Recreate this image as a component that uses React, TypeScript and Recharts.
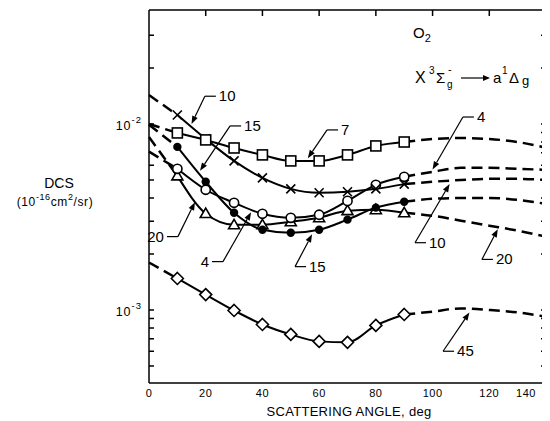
import React from "react";
import { LineChart, Line, XAxis, YAxis, ReferenceLine } from "recharts";

// scattering angles (deg) of the measured points and of the dashed extrapolation
const ANGLES = [10, 20, 30, 40, 50, 60, 70, 80, 90];
const TAIL_ANGLES = [100, 110, 120, 130, 140];

// DCS values, 10^-16 cm^2/sr
const dcs7 = [8.95e-3, 8.21e-3, 7.43e-3, 6.82e-3, 6.33e-3, 6.33e-3, 6.82e-3, 7.62e-3, 8.0e-3];
const dcs7Zero = 1.0e-2;
const dcs7Tail = [8.3e-3, 8.4e-3, 8.3e-3, 8.0e-3, 7.45e-3];

const dcs10 = [1.118e-2, 8.31e-3, 6.33e-3, 5.13e-3, 4.48e-3, 4.27e-3, 4.32e-3, 4.48e-3, 4.75e-3];
const dcs10Zero = 1.43e-2;
const dcs10Tail = [4.89e-3, 5.0e-3, 5.07e-3, 5.07e-3, 5.0e-3];

const dcs4 = [5.74e-3, 4.43e-3, 3.77e-3, 3.29e-3, 3.13e-3, 3.25e-3, 3.86e-3, 4.71e-3, 5.2e-3];
const dcs4Zero = 7.1e-3;
const dcs4Tail = [5.53e-3, 5.81e-3, 5.81e-3, 5.74e-3, 5.67e-3];

const dcs15 = [7.53e-3, 4.89e-3, 3.33e-3, 2.7e-3, 2.6e-3, 2.7e-3, 3.06e-3, 3.55e-3, 3.82e-3];
const dcs15Zero = 9.9e-3;
const dcs15Tail = [3.96e-3, 4.0e-3, 4.0e-3, 3.91e-3, 3.72e-3];

const dcs20 = [5.26e-3, 3.3e-3, 2.87e-3, 2.87e-3, 2.98e-3, 3.13e-3, 3.42e-3, 3.46e-3, 3.33e-3];
const dcs20Zero = 8.5e-3;
const dcs20Tail = [3.21e-3, 3.02e-3, 2.84e-3, 2.67e-3, 2.48e-3];

const dcs45 = [1.477e-3, 1.21e-3, 9.94e-4, 8.36e-4, 7.39e-4, 6.78e-4, 6.7e-4, 8.26e-4, 9.46e-4];
const dcs45Zero = 1.8e-3;
const dcs45Tail = [9.8e-4, 1.02e-3, 1.0e-3, 9.7e-4, 9.2e-4];

const X_TICKS = [0, 20, 40, 60, 80, 100, 120, 140];
const TOP_TICKS = [20, 40, 60, 80, 100, 120];
const Y_TOP = 4.1e-2;
const Y_MAJOR = [1e-3, 1e-2];
const Y_LEFT_TICKS = [5e-4, 6e-4, 7e-4, 8e-4, 9e-4, 1e-3, 2e-3, 3e-3, 4e-3, 5e-3, 6e-3, 1e-2, 2e-2, 3e-2];
const Y_RIGHT_TICKS = [5e-4, 6e-4, 7e-4, 8e-4, 9e-4, 1e-3, 2e-3, 3e-3, 4e-3, 5e-3, 6e-3, 7e-3, 8e-3, 9e-3, 1e-2, 2e-2, 3e-2];

const SERIES = [
  { key: "e45", meas: dcs45, zero: dcs45Zero, tail: dcs45Tail, marker: "diamond" },
  { key: "e20", meas: dcs20, zero: dcs20Zero, tail: dcs20Tail, marker: "triangle" },
  { key: "e15", meas: dcs15, zero: dcs15Zero, tail: dcs15Tail, marker: "dot" },
  { key: "e4", meas: dcs4, zero: dcs4Zero, tail: dcs4Tail, marker: "circle" },
  { key: "e10", meas: dcs10, zero: dcs10Zero, tail: dcs10Tail, marker: "cross" },
  { key: "e7", meas: dcs7, zero: dcs7Zero, tail: dcs7Tail, marker: "square" },
];

// energy labels with leader arrows: [angle, dcs] of elbow and arrow tip
const NOTES = [
  { text: "10", from: [19.7, 1.41e-2], to: [15, 1.0e-2], side: "right" },
  { text: "15", from: [28.6, 9.76e-3], to: [18, 5.6e-3], side: "right" },
  { text: "7", from: [62.8, 9.29e-3], to: [56, 6.55e-3], side: "right" },
  { text: "4", from: [110.7, 1.09e-2], to: [100, 5.7e-3], side: "right" },
  { text: "10", from: [93.8, 2.3e-3], to: [106, 4.75e-3], side: "right" },
  { text: "20", from: [117.4, 1.87e-3], to: [123, 2.72e-3], side: "right" },
  { text: "15", from: [51.5, 1.71e-3], to: [57.5, 2.55e-3], side: "right" },
  { text: "45", from: [103.7, 6.0e-4], to: [113, 9.7e-4], side: "right" },
  { text: "20", from: [10.2, 2.48e-3], to: [16.2, 3.8e-3], side: "left" },
  { text: "4", from: [26.1, 1.82e-3], to: [36, 3.35e-3], side: "left" },
];

const rows = [0, ...ANGLES, ...TAIL_ANGLES].map((angle) => {
  const row: any = { angle };
  SERIES.forEach((s) => {
    const i = ANGLES.indexOf(angle);
    const j = TAIL_ANGLES.indexOf(angle);
    row[s.key] = i >= 0 ? s.meas[i] : null;
    let ext = null;
    if (angle === 0) ext = s.zero;
    else if (angle === 10) ext = s.meas[0];
    else if (angle === 90) ext = s.meas[8];
    else if (j >= 0) ext = s.tail[j];
    row[s.key + "Ext"] = ext;
  });
  return row;
});

const W = 542;
const H = 413;
const MARGIN = { top: 1, right: 3, bottom: 8, left: 81 };
const Y_AXIS_W = 60;
const PLOT_LEFT = MARGIN.left + Y_AXIS_W;
const PLOT_W = W - MARGIN.right - 1 - PLOT_LEFT;
const PLOT_TOP = MARGIN.top + 1;

const FONT = "'Liberation Sans', Arial, sans-serif";
const NARROW = "'Liberation Sans Narrow', 'Liberation Sans', sans-serif";

const Marker = ({ cx, cy, kind }: any) => {
  if (cx == null || cy == null || isNaN(cy)) return <g />;
  const st = { stroke: "#000", strokeWidth: 1.6 };
  switch (kind) {
    case "square":
      return <rect x={cx - 5} y={cy - 5} width={10} height={10} fill="#fff" {...st} />;
    case "cross":
      return (
        <path
          d={`M${cx - 4.5},${cy - 4.5}L${cx + 4.5},${cy + 4.5}M${cx + 4.5},${cy - 4.5}L${cx - 4.5},${cy + 4.5}`}
          fill="none"
          {...st}
        />
      );
    case "circle":
      return <circle cx={cx} cy={cy} r={4.6} fill="#fff" {...st} />;
    case "dot":
      return <circle cx={cx} cy={cy} r={4.2} fill="#000" />;
    case "triangle":
      return (
        <polygon points={`${cx},${cy - 5.5} ${cx + 5.5},${cy + 4} ${cx - 5.5},${cy + 4}`} fill="#fff" {...st} />
      );
    default:
      return (
        <polygon points={`${cx},${cy - 6} ${cx + 6},${cy} ${cx},${cy + 6} ${cx - 6},${cy}`} fill="#fff" {...st} />
      );
  }
};

const DecadeTick = ({ x, y, payload }: any) => {
  const v = payload.value;
  if (!Y_MAJOR.includes(v)) return <g />;
  const exp = Math.round(Math.log10(v));
  return (
    <text x={x} y={y + 6} textAnchor="end" fontSize={12.5} fontFamily={FONT} letterSpacing={1} fill="#000">
      10
      <tspan dy={-7} fontSize={9.5}>
        {exp}
      </tspan>
    </text>
  );
};

const AngleTick = ({ x, y, payload }: any) => (
  <text
    x={payload.value === 140 ? x - 12 : x}
    y={y + 8}
    textAnchor="middle"
    fontSize={11}
    fontFamily={FONT}
    letterSpacing={0.5}
    fill="#000"
  >
    {payload.value}
  </text>
);

const NoLabel = () => <g />;

const pointer = (text: string, side: string) => (p: any) => {
  const { x1, y1, x2, y2 } = p;
  const dx = x2 - x1;
  const dy = y2 - y1;
  const len = Math.hypot(dx, dy) || 1;
  const ux = dx / len;
  const uy = dy / len;
  const bx = x2 - ux * 8;
  const by = y2 - uy * 8;
  const head = `${x2},${y2} ${bx - uy * 3},${by + ux * 3} ${bx + uy * 3},${by - ux * 3}`;
  const hx = side === "right" ? x1 + 11 : x1 - 11;
  return (
    <g>
      <line x1={x1} y1={y1} x2={bx} y2={by} stroke="#000" strokeWidth={1.2} />
      <polygon points={head} fill="#000" />
      <line x1={x1} y1={y1} x2={hx} y2={y1} stroke="#000" strokeWidth={1.2} />
      <text
        x={side === "right" ? hx + 3 : hx - 3}
        y={y1 + 5}
        textAnchor={side === "right" ? "start" : "end"}
        fontSize={15}
        fontFamily={NARROW}
        fill="#000"
      >
        {text}
      </text>
    </g>
  );
};

const frame = { stroke: "#000", strokeWidth: 1.5 };

export default function App() {
  return (
    <div style={{ position: "relative", width: W, height: H }}>
      <LineChart width={W} height={H} data={rows} margin={MARGIN}>
        <XAxis
          dataKey="angle"
          type="number"
          domain={[0, 140]}
          ticks={X_TICKS}
          height={30}
          tickLine={false}
          tickSize={0}
          tickMargin={6}
          axisLine={frame}
          tick={<AngleTick />}
        />
        <XAxis
          xAxisId="top"
          orientation="top"
          dataKey="angle"
          type="number"
          domain={[0, 140]}
          ticks={X_TICKS}
          height={1}
          tickLine={false}
          tick={<NoLabel />}
          axisLine={frame}
        />
        <YAxis
          type="number"
          scale="log"
          domain={[4.05e-4, Y_TOP]}
          allowDataOverflow
          ticks={Y_LEFT_TICKS}
          interval={0}
          width={Y_AXIS_W}
          tickSize={-5}
          tickMargin={12}
          tickLine={frame}
          axisLine={frame}
          tick={<DecadeTick />}
        />
        <YAxis
          yAxisId="right"
          orientation="right"
          type="number"
          scale="log"
          domain={[4.05e-4, Y_TOP]}
          allowDataOverflow
          ticks={Y_RIGHT_TICKS}
          interval={0}
          width={1}
          tick={<NoLabel />}
          tickSize={-5}
          tickLine={frame}
          axisLine={frame}
        />
        {SERIES.map((s) => (
          <Line
            key={s.key + "Ext"}
            type="monotone"
            dataKey={s.key + "Ext"}
            stroke="#000"
            strokeWidth={2.5}
            strokeDasharray="11 6"
            dot={false}
            activeDot={false}
            connectNulls={false}
            isAnimationActive={false}
          />
        ))}
        {SERIES.map((s) => (
          <Line
            key={s.key}
            type="monotone"
            dataKey={s.key}
            stroke="#000"
            strokeWidth={2}
            dot={(p: any) => <Marker key={`${s.key}-${p.index}`} cx={p.cx} cy={p.cy} kind={s.marker} />}
            activeDot={false}
            connectNulls={false}
            isAnimationActive={false}
          />
        ))}
        {NOTES.map((n, i) => (
          <ReferenceLine
            key={"note" + i}
            segment={[
              { x: n.from[0], y: n.from[1] },
              { x: n.to[0], y: n.to[1] },
            ]}
            ifOverflow="visible"
            shape={pointer(n.text, n.side)}
          />
        ))}
      </LineChart>
      <svg
        width={W}
        height={H}
        style={{ position: "absolute", left: 0, top: 0, pointerEvents: "none" }}
        fontFamily={FONT}
      >
        {TOP_TICKS.map((t) => {
          const x = PLOT_LEFT + (t / 140) * PLOT_W;
          return <line key={t} x1={x} y1={PLOT_TOP} x2={x} y2={PLOT_TOP + 6} stroke="#000" strokeWidth={1.5} />;
        })}
        <text x={51} y={180} textAnchor="middle" fontSize={14} fill="#000">
          DCS
        </text>
        <text x={47} y={198} textAnchor="middle" fontSize={12} letterSpacing={0.6} fill="#000">
          (10
          <tspan dy={-6} fontSize={9}>
            -16
          </tspan>
          <tspan dy={6}>cm</tspan>
          <tspan dy={-6} fontSize={9}>
            2
          </tspan>
          <tspan dy={6}>/sr)</tspan>
        </text>
        <text x={405} y={30} fontSize={15} fill="#000">
          O
          <tspan dy={4} fontSize={11}>
            2
          </tspan>
        </text>
        <text x={407} y={75} fontSize={16} fill="#000">X</text>
        <text x={421} y={66} fontSize={10} fill="#000">3</text>
        <text x={428} y={75} fontSize={15} fill="#000">Σ</text>
        <text x={439} y={80} fontSize={10} fill="#000">g</text>
        <text x={440} y={65} fontSize={11} fill="#000">-</text>
        <line x1={453} y1={70} x2={476} y2={70} stroke="#000" strokeWidth={1.2} />
        <polygon points="482,70 475,67 475,73" fill="#000" />
        <text x={485} y={75} fontSize={15} fill="#000">a</text>
        <text x={494} y={66} fontSize={10} fill="#000">1</text>
        <text x={501} y={75} fontSize={15} fill="#000">Δ</text>
        <text x={514} y={77} fontSize={13} fill="#000">g</text>
        <text x={341} y={408} textAnchor="middle" fontSize={13} letterSpacing={0.3} fill="#000">
          SCATTERING ANGLE, deg
        </text>
      </svg>
    </div>
  );
}
